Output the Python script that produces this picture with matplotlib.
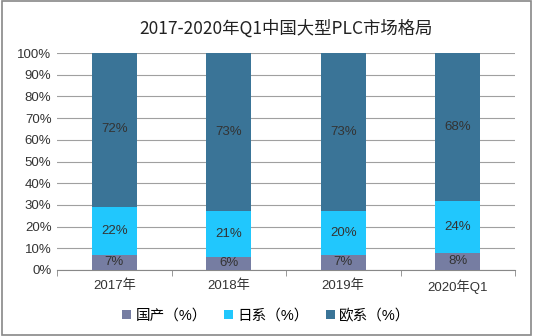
import matplotlib
matplotlib.use("Agg")
import matplotlib.pyplot as plt
import numpy as np
from matplotlib.patches import Rectangle

plt.rcParams["font.family"] = ["Liberation Sans", "Noto Sans CJK SC", "DejaVu Sans"]

years = ["2017年", "2018年", "2019年", "2020年Q1"]
domestic = [7, 6, 7, 8]
japan = [22, 21, 20, 24]
europe = [72, 73, 73, 68]
names = ["国产（%）", "日系（%）", "欧系（%）"]
COLS = ["#767DA2", "#21C7FD", "#3A7497"]

fig = plt.figure(figsize=(5.33, 3.36), dpi=100)
ax = fig.add_axes([57 / 533, 1 - 270 / 336, 458 / 533, 217 / 336])

x = np.arange(len(years))
w = 0.39
b1 = np.array(domestic)
b2 = b1 + np.array(japan)
series = [(domestic, 0), (japan, b1), (europe, b2)]
for (vals, bot), c, n in zip(series, COLS, names):
    ax.bar(x, vals, w, bottom=bot, color=c, label=n, zorder=3)
    for xi, v, bb in zip(x, vals, np.broadcast_to(bot, len(x))):
        ax.text(xi, bb + v / 2, f"{v}%", ha="center", va="center",
                fontsize=9.5, color="#333333", zorder=4)

ax.set_xlim(-0.5, len(years) - 0.5)
ax.set_ylim(0, 100)
ax.set_yticks(range(0, 101, 10))
ax.set_yticklabels([f"{v}%" for v in range(0, 101, 10)], fontsize=9.5, color="#333333")
ax.set_xticks(x)
ax.set_xticklabels(years, fontsize=9.5, color="#333333")
ax.set_xticks(np.arange(-0.5, len(years)), minor=True)
ax.tick_params(axis="x", which="major", length=0, pad=7)
ax.tick_params(axis="x", which="minor", length=4, color="#888888")
ax.tick_params(axis="y", length=0, pad=4)
ax.grid(axis="y", color="#a0a0a0", lw=0.8, zorder=0)
for s in ["top", "right", "left"]:
    ax.spines[s].set_visible(False)
ax.spines["bottom"].set_color("#888888")

ax.set_title("2017-2020年Q1中国大型PLC市场格局", fontsize=12.5, color="#222222",
             family=["Noto Sans CJK SC"], pad=14)

fig.legend(loc="lower center", bbox_to_anchor=(0.5, 0.0), ncol=3, frameon=False,
           fontsize=10.5, handlelength=0.6, handleheight=0.6, columnspacing=1.2,
           handletextpad=0.3)

fig.patches.append(Rectangle((0.004, 0.004), 0.992, 0.992, transform=fig.transFigure,
                             fill=False, edgecolor="#888888", lw=1.2))
fig.savefig("out.png", dpi=100)
